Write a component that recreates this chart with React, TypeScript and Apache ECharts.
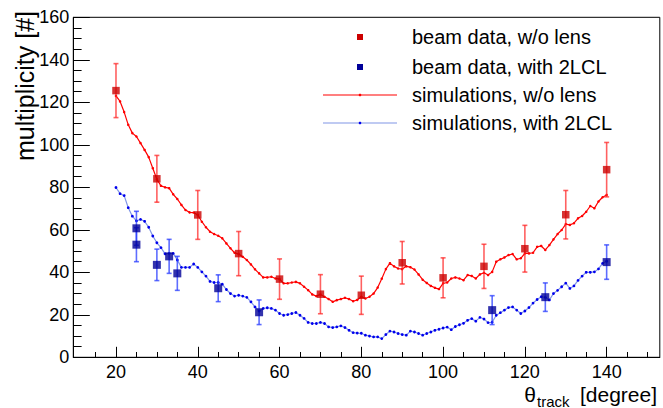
import React, { useEffect, useRef } from 'react';
import * as echarts from 'echarts';

// simulation angles (degree), one per degree from 20 to 140
const simDeg: number[] = Array.from({ length: 121 }, (_, i) => 20 + i);

const simNoLens: number[] = [
  123, 120.4, 115.4, 109.4, 105.5, 103.9, 100.8, 97.6, 94.2, 89.0,
  83.8, 80.7, 80.0, 79.6, 76.7, 74.5, 71.7, 69.3, 68.2, 68.1,
  67.0, 63.8, 61.2, 59.1, 58.0, 57.2, 56.0, 53.6, 51.3, 49.2,
  48.6, 47.3, 45.8, 43.7, 41.4, 39.5, 37.6, 37.6, 37.9, 37.1,
  36.8, 34.8, 34.8, 35.2, 35.5, 34.8, 33.2, 31.6, 29.6, 28.8,
  29.6, 28.5, 27.4, 26.1, 26.9, 27.4, 28.0, 27.4, 26.4, 27.0,
  28.5, 27.7, 28.5, 30.0, 32.8, 37.0, 41.5, 44.3, 42.8, 41.8,
  41.5, 42.8, 42.4, 41.3, 39.0, 36.5, 35.0, 33.6, 32.7, 32.1,
  34.8, 35.2, 37.1, 37.6, 37.1, 36.3, 38.7, 38.3, 37.1, 39.0,
  39.8, 38.7, 40.2, 45.0, 46.1, 47.0, 48.1, 48.6, 46.1, 46.6,
  48.9, 48.9, 49.2, 52.0, 52.4, 50.5, 52.8, 55.5, 58.0, 59.9,
  62.7, 62.3, 63.1, 65.4, 66.5, 68.5, 71.2, 70.1, 73.3, 75.3,
  76.4,
];

const simWith2LCL: number[] = [
  79.9, 77.0, 76.1, 70.4, 66.4, 64.2, 64.9, 64.0, 61.2, 57.1,
  53.9, 51.6, 48.7, 48.9, 48.9, 45.8, 42.3, 42.3, 42.3, 43.9,
  42.3, 40.2, 38.2, 35.7, 35.2, 35.2, 34.4, 31.9, 30.0, 28.8,
  29.2, 28.8, 28.2, 26.1, 23.7, 21.8, 23.0, 23.3, 23.0, 22.2,
  20.6, 19.8, 20.1, 20.6, 21.1, 19.8, 18.3, 16.4, 15.9, 15.9,
  16.4, 15.9, 14.3, 14.0, 14.3, 14.8, 14.0, 12.7, 11.6, 11.4,
  11.3, 10.4, 10.0, 9.6, 9.6, 8.8, 10.7, 12.3, 11.9, 11.2,
  10.7, 10.4, 12.3, 11.9, 11.2, 10.4, 11.2, 11.9, 12.7, 13.2,
  13.8, 14.2, 13.0, 14.5, 15.3, 16.0, 17.4, 18.2, 17.0, 18.8,
  18.0, 16.3, 16.5, 19.8, 21.0, 22.2, 23.4, 23.7, 22.2, 20.6,
  21.8, 23.4, 25.5, 27.2, 28.5, 28.2, 27.0, 30.0, 31.5, 33.2,
  34.9, 32.4, 33.6, 36.2, 38.2, 40.0, 40.0, 40.2, 41.6, 44.2,
  45.2,
];

const beamNoLensX: number[] = [20, 30, 40, 50, 60, 70, 80, 90, 100, 110, 120, 130, 140];
const beamNoLensY: number[] = [125.5, 84, 67, 48.8, 36.8, 29.7, 29.2, 44.5, 37.4, 42.8, 51.1, 67.1, 88.3];
const beamNoLensErr: number[] = [12.7, 11, 11.5, 10.4, 9.5, 9.2, 9, 10, 9.4, 10.4, 11, 11.4, 12.8];

const beam2LCLX: number[] = [25, 25, 30, 33, 35, 45, 55, 112, 125, 140];
const beam2LCLY: number[] = [60.7, 53, 43.5, 47.5, 39.5, 32.5, 21.2, 22.2, 28.3, 44.8];
const beam2LCLErr: number[] = [8, 8, 7.4, 8, 8, 6.3, 5.8, 6.8, 6.7, 8.1];

const xMajorTicks: number[] = [20, 40, 60, 80, 100, 120, 140];
const xMinorTicks: number[] = [15, 25, 30, 35, 45, 50, 55, 65, 70, 75, 85, 90, 95, 105, 110, 115, 125, 130, 135, 145, 150];
const yMinorTicks: number[] = [5, 10, 15, 25, 30, 35, 45, 50, 55, 65, 70, 75, 85, 90, 95, 105, 110, 115, 125, 130, 135, 145, 150, 155];

const legendLabels: string[] = [
  'beam data, w/o lens',
  'beam data, with 2LCL',
  'simulations, w/o lens',
  'simulations, with 2LCL',
];

const FONT = '"Liberation Sans", Arial, Helvetica, sans-serif';
const RED_MARK = '#cc0000';
const BLUE_MARK = '#000099';
const RED_LINE = '#ff0000';
const BLUE_LINE = '#8096e6';
const BLUE_DOT = '#0000ee';
const RED_ERR = 'rgba(255,30,30,0.7)';
const BLUE_ERR = 'rgba(40,60,255,0.75)';

const X_MIN = 9.56;
const X_MAX = 153;

function errorBar(color: string) {
  return (params: any, api: any) => {
    const x = api.value(0);
    const y = api.value(1);
    const e = api.value(2);
    const hi = api.coord([x, y + e]);
    const lo = api.coord([x, y - e]);
    const w = 2.5;
    const st = { stroke: color, lineWidth: 1.6 };
    return {
      type: 'group',
      children: [
        { type: 'line', shape: { x1: hi[0], y1: hi[1], x2: lo[0], y2: lo[1] }, style: st },
        { type: 'line', shape: { x1: hi[0] - w, y1: hi[1], x2: hi[0] + w, y2: hi[1] }, style: st },
        { type: 'line', shape: { x1: lo[0] - w, y1: lo[1], x2: lo[0] + w, y2: lo[1] }, style: st },
      ],
    };
  };
}

export default function App() {
  const ref = useRef<HTMLDivElement>(null);

  useEffect(() => {
    if (!ref.current) return;
    const chart = echarts.init(ref.current, undefined, { renderer: 'svg' });

    const legendRowsY = [37, 67, 95, 123];
    const legendGraphics: any[] = [];
    legendLabels.forEach((label, i) => {
      legendGraphics.push({
        type: 'text',
        x: 412,
        y: legendRowsY[i],
        style: { text: label, fontSize: 20, fontFamily: FONT, fill: '#000', align: 'left', verticalAlign: 'middle' },
      });
    });
    legendGraphics.push(
      { type: 'rect', shape: { x: 357, y: legendRowsY[0] - 3, width: 6, height: 6 }, style: { fill: RED_MARK } },
      { type: 'rect', shape: { x: 357, y: legendRowsY[1] - 3, width: 6, height: 6 }, style: { fill: BLUE_MARK } },
      { type: 'line', shape: { x1: 323, y1: legendRowsY[2], x2: 397, y2: legendRowsY[2] }, style: { stroke: RED_LINE, lineWidth: 1.2 } },
      { type: 'circle', shape: { cx: 360, cy: legendRowsY[2], r: 1.3 }, style: { fill: RED_LINE } },
      { type: 'line', shape: { x1: 323, y1: legendRowsY[3], x2: 397, y2: legendRowsY[3] }, style: { stroke: BLUE_LINE, lineWidth: 1.2 } },
      { type: 'circle', shape: { cx: 360, cy: legendRowsY[3], r: 1.3 }, style: { fill: BLUE_DOT } },
    );

    const option: any = {
      animation: false,
      backgroundColor: '#ffffff',
      grid: {
        left: 73.3,
        right: 3.2,
        top: 17.3,
        bottom: 50.7,
        show: true,
        borderColor: '#000',
        borderWidth: 1,
        containLabel: false,
      },
      xAxis: [
        {
          type: 'value',
          min: X_MIN,
          max: X_MAX,
          axisLine: { show: true, lineStyle: { color: '#000', width: 1 } },
          axisTick: { show: true, inside: true, length: 10.5, customValues: xMajorTicks, lineStyle: { color: '#000', width: 1 } },
          axisLabel: { show: true, customValues: xMajorTicks, fontSize: 18, fontFamily: FONT, color: '#000', margin: 6 },
          splitLine: { show: false },
        },
        {
          type: 'value',
          min: X_MIN,
          max: X_MAX,
          position: 'bottom',
          axisLine: { show: false },
          axisTick: { show: true, inside: true, length: 5.3, customValues: xMinorTicks, lineStyle: { color: '#000', width: 1 } },
          axisLabel: { show: false },
          splitLine: { show: false },
        },
      ],
      yAxis: [
        {
          type: 'value',
          min: 0,
          max: 160,
          interval: 20,
          axisLine: { show: true, lineStyle: { color: '#000', width: 1 } },
          axisTick: { show: true, inside: true, length: 16.5, lineStyle: { color: '#000', width: 1 } },
          axisLabel: { show: true, fontSize: 18, fontFamily: FONT, color: '#000', margin: 4 },
          splitLine: { show: false },
        },
        {
          type: 'value',
          min: 0,
          max: 160,
          position: 'left',
          offset: 0,
          axisLine: { show: false },
          axisTick: { show: true, inside: true, length: 8.3, customValues: yMinorTicks, lineStyle: { color: '#000', width: 1 } },
          axisLabel: { show: false },
          splitLine: { show: false },
        },
      ],
      graphic: [
        {
          type: 'text',
          x: 25,
          y: 11,
          rotation: Math.PI / 2,
          style: { text: 'multiplicity [#]', fontSize: 25, fontFamily: FONT, fill: '#000', align: 'right', verticalAlign: 'middle' },
        },
        {
          type: 'text',
          x: 536,
          y: 394,
          style: { text: 'θ', fontSize: 21, fontFamily: FONT, fill: '#000', align: 'right', verticalAlign: 'middle' },
        },
        {
          type: 'text',
          x: 537,
          y: 401,
          style: { text: 'track', fontSize: 15, fontFamily: FONT, fill: '#000', align: 'left', verticalAlign: 'middle' },
        },
        {
          type: 'text',
          x: 580,
          y: 394,
          style: { text: '[degree]', fontSize: 21, fontFamily: FONT, fill: '#000', align: 'left', verticalAlign: 'middle' },
        },
        ...legendGraphics,
      ],
      series: [
        {
          name: legendLabels[2],
          type: 'line',
          xAxisIndex: 0,
          yAxisIndex: 0,
          data: simDeg.map((d, i) => [d, simNoLens[i]]),
          lineStyle: { color: RED_LINE, width: 1.2 },
          itemStyle: { color: RED_LINE },
          symbol: 'circle',
          symbolSize: 2.5,
          showSymbol: true,
          z: 2,
        },
        {
          name: legendLabels[3],
          type: 'line',
          xAxisIndex: 0,
          yAxisIndex: 0,
          data: simDeg.map((d, i) => [d, simWith2LCL[i]]),
          lineStyle: { color: BLUE_LINE, width: 1.2 },
          itemStyle: { color: BLUE_DOT },
          symbol: 'circle',
          symbolSize: 2.8,
          showSymbol: true,
          z: 2,
        },
        {
          type: 'custom',
          xAxisIndex: 0,
          yAxisIndex: 0,
          renderItem: errorBar(RED_ERR),
          data: beamNoLensX.map((x, i) => [x, beamNoLensY[i], beamNoLensErr[i]]),
          z: 3,
        },
        {
          type: 'custom',
          xAxisIndex: 0,
          yAxisIndex: 0,
          renderItem: errorBar(BLUE_ERR),
          data: beam2LCLX.map((x, i) => [x, beam2LCLY[i], beam2LCLErr[i]]),
          z: 3,
        },
        {
          name: legendLabels[0],
          type: 'scatter',
          xAxisIndex: 0,
          yAxisIndex: 0,
          data: beamNoLensX.map((x, i) => [x, beamNoLensY[i]]),
          symbol: 'rect',
          symbolSize: 7.5,
          itemStyle: { color: RED_MARK },
          z: 4,
        },
        {
          name: legendLabels[1],
          type: 'scatter',
          xAxisIndex: 0,
          yAxisIndex: 0,
          data: beam2LCLX.map((x, i) => [x, beam2LCLY[i]]),
          symbol: 'rect',
          symbolSize: 8,
          itemStyle: { color: BLUE_MARK },
          z: 4,
        },
      ],
    };

    chart.setOption(option);
    return () => chart.dispose();
  }, []);

  return (
    <div
      ref={ref}
      style={{ position: 'absolute', left: 0, top: 0, width: 663, height: 408, background: '#fff' }}
    />
  );
}
